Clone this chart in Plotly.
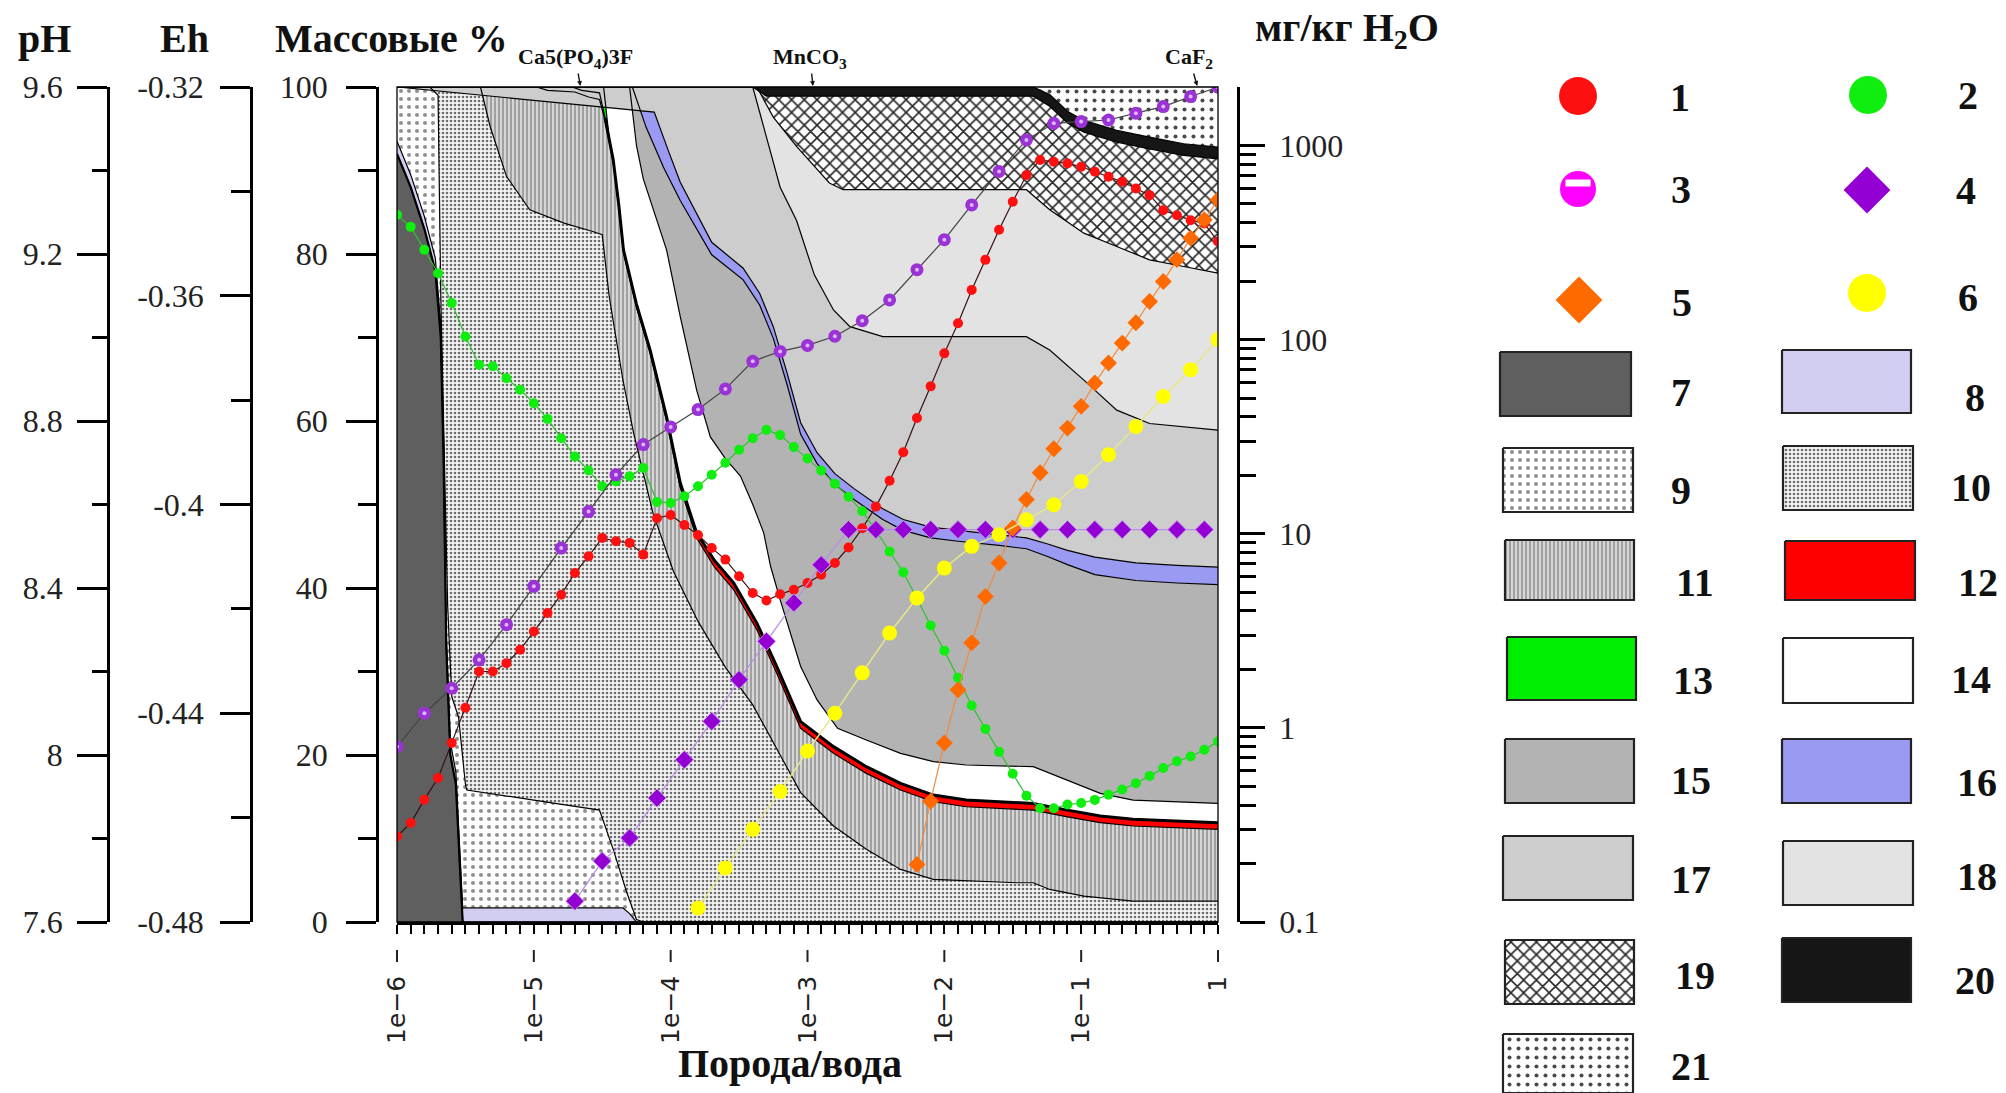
import plotly.graph_objects as go

W, H = 2006, 1093


def px(x):
    return x / W


def py(y):
    return 1 - y / H


# plot frame (pixels)
PL, PR, PT, PB = 397, 1218, 87, 922

# ---------------- x grids: exponent of rock/water ratio ----------------
lg_r01 = [k / 10 for k in range(-60, 1)]          # every 0.1 decade
lg_r02 = [k / 10 for k in range(-60, 1, 2)]       # every 0.2 decade
lg_s4 = [k / 10 for k in range(-47, 0, 2)]
lg_s5 = [k / 10 for k in range(-22, 1)]
lg_s6 = [k / 10 for k in range(-38, 1, 2)]

# ---------------- series ----------------
ph_1 = [7.805, 7.837, 7.893, 7.945, 8.029, 8.113, 8.2, 8.2, 8.22, 8.252,
        8.296, 8.34, 8.384, 8.436, 8.476, 8.52, 8.512, 8.508, 8.48, 8.567,
        8.575, 8.551, 8.527, 8.496, 8.468, 8.428, 8.388, 8.37, 8.385, 8.396,
        8.412, 8.432, 8.46, 8.497, 8.543, 8.595, 8.657, 8.725, 8.807, 8.883,
        8.962, 9.034, 9.114, 9.186, 9.258, 9.325, 9.389, 9.425, 9.421, 9.417,
        9.409, 9.397, 9.385, 9.373, 9.357, 9.341, 9.305, 9.293, 9.281, 9.273,
        9.23]
eh_2 = [-0.3445, -0.3468, -0.3512, -0.3557, -0.3614, -0.3678, -0.3732, -0.3735, -0.3758, -0.378,
        -0.3806, -0.3836, -0.3873, -0.3908, -0.3935, -0.3965, -0.3956, -0.3946, -0.393, -0.3995,
        -0.3997, -0.3984, -0.3965, -0.3943, -0.392, -0.3895, -0.3873, -0.3857, -0.3867, -0.389,
        -0.3912, -0.3935, -0.396, -0.3985, -0.4013, -0.405, -0.409, -0.413, -0.418, -0.4232,
        -0.428, -0.4332, -0.4385, -0.443, -0.4474, -0.4516, -0.4558, -0.4582, -0.4582, -0.4575,
        -0.4572, -0.4566, -0.4556, -0.4546, -0.4534, -0.452, -0.4505, -0.4492, -0.4483, -0.447,
        -0.4454]
conc_3 = [0.80, 1.19, 1.60, 2.24, 3.40, 5.36, 8.43, 13.0, 20.1, 28.8, 35.5, 43.6, 55.7, 77.3,
          86.9, 93.3, 104, 125, 160, 229, 327, 494, 735, 1067, 1300, 1327, 1352, 1466, 1585,
          1786, 1995]
conc_4 = [0.128, 0.206, 0.271, 0.435, 0.685, 1.08, 1.77, 2.79, 4.40, 6.92,
          10.5, 10.5, 10.5, 10.5, 10.5, 10.5, 10.5, 10.5, 10.5, 10.5, 10.5, 10.5, 10.5, 10.5]
conc_5 = [0.198, 0.419, 0.836, 1.57, 2.74, 4.75, 7.06, 10.7, 15.0, 20.6, 27.4, 35.0, 45.3,
          59.7, 75.7, 95.9, 122, 157, 199, 258, 333, 414, 525]
conc_6 = [0.118, 0.19, 0.30, 0.47, 0.76, 1.19, 1.92, 3.08, 4.67, 6.65, 8.61, 9.89, 11.8,
          14.1, 18.6, 25.5, 35.7, 50.9, 70, 100]

# ---------------- cumulative mass-% boundaries (top of each phase) ----------------
b7_lg = [-6, -5.9, -5.8, -5.72, -5.68, -5.66, -5.64, -5.61, -5.57, -5.53, -5.52, 0]
b7_pct = [92, 88, 83, 78, 70, 56, 33, 20, 16.5, 4, 0, 0]
b8_lg = [-6, -5.9, -5.8, -5.72, -5.68, -5.66, -5.64, -5.61, -5.57, -5.53, -5.52, -4.35, -4.3, -4.25, 0]
b8_pct = [93.5, 89.5, 84.5, 79.5, 71.5, 57.5, 34.5, 21.5, 18, 5.7, 1.7, 1.7, 1.0, 0, 0]
b9_lg = [-6, -5.76, -5.7, -5.68, -5.66, -5.63, -5.6, -5.55, -5.5, -5.49, -5.0, -4.52, -4.42, -4.32, -4.25, -4.2, 0]
b9_pct = [100, 100, 99, 75, 60, 38, 27, 24.5, 16.5, 15.8, 14.6, 13.4, 8.7, 3.5, 0.3, 0, 0]
b10_lg = [-6, -5.39, -5.32, -5.2, -5.03, -4.78, -4.57, -4.5, -4.45, -4.35, -4.27, -4.13, -3.98, -3.8,
          -3.6, -3.4, -3.2, -3.05, -2.81, -2.57, -2.32, -2.08, -1.47, -1.35, -1.23, -0.98, -0.62, 0]
b10_pct = [100, 100, 95.3, 89.3, 85.3, 83.7, 82.7, 82.3, 75, 65, 58.5, 49, 42, 36,
           30.5, 26, 20, 15.5, 11.5, 8.7, 6.3, 5.1, 4.7, 4.7, 3.9, 3.1, 2.5, 2.5]
b11_lg = [-6, -4.98, -4.9, -4.7, -4.6, -4.52, -4.48, -4.45, -4.42, -4.38, -4.345, -4.25, -4.15, -4.03,
          -3.93, -3.81, -3.68, -3.54, -3.37, -3.225, -3.05, -2.81, -2.57, -2.32, -2.08, -1.84, -1.35,
          -1.1, -0.86, -0.62, 0]
b11_pct = [100, 100, 99.6, 99.4, 98.8, 98.5, 96, 93.7, 91, 85.7, 80.2, 73.6, 68.1, 60,
           52, 46, 42.5, 39.8, 35, 29.8, 23.2, 20.2, 17.8, 15.8, 14.4, 13.8, 13.4,
           12.6, 11.9, 11.5, 11.1]
# left edge of the white band (top of red / green)
c_lg = [-4.48, -4.45, -4.42, -4.38, -4.345, -4.25, -4.15, -4.03, -3.93, -3.81, -3.68, -3.54, -3.37,
        -3.225, -3.05, -2.81, -2.57, -2.32, -2.08, -1.84, -1.35, -1.1, -0.86, -0.62, 0]
c_pct = [96.3, 94, 91.3, 86, 80.5, 74, 68.5, 60.5, 52.6, 46.6, 43.3, 40.6, 35.8,
         30.6, 24.0, 21.0, 18.6, 16.6, 15.2, 14.6, 14.2, 13.4, 12.7, 12.3, 11.9]
b12_lg = [-6, -4.72, -4.65, -4.52] + c_lg
b12_pct = [100, 100, 99.6, 99.3] + c_pct
b13_lg = [-6, -4.49] + c_lg[1:]
b13_pct = [100, 100] + c_pct[1:]
b14_lg = [-6, -4.3, -4.25, -4.2, -4.1, -4.03, -3.93, -3.81, -3.71, -3.6, -3.49, -3.4, -3.32, -3.27,
          -3.2, -3.05, -2.93, -2.78, -2.57, -2.32, -2.08, -1.84, -1.35, -1.1, -0.86, -0.62, 0]
b14_pct = [100, 100, 93, 89, 84, 80.5, 72.5, 63.7, 58.1, 55.5, 53.4, 50, 46.6, 42.6,
           38.6, 30.6, 26.6, 23.2, 21.8, 20.2, 19.2, 18.8, 18.6, 17.0, 15.4, 14.6, 14.2]
b15_lg = [-6, -4.28, -4.18, -4.05, -3.93, -3.7, -3.47, -3.35, -3.25, -3.15, -3.05, -2.93, -2.8, -2.66,
          -2.45, -2.3, -2.1, -1.9, -1.6, -1.4, -1.25, -1.1, -0.9, -0.6, -0.3, 0]
b15_pct = [100, 100, 95.2, 90.3, 86.4, 79.9, 76.9, 73.9, 69.9, 64.4, 58.4, 54.9, 52.4, 50.6,
           48.2, 46.9, 46.0, 45.6, 45.1, 44.7, 43.8, 42.8, 41.6, 40.9, 40.6, 40.4]
b16_lg = [-6, -4.12, -4.02, -3.93, -3.7, -3.47, -3.35, -3.25, -3.15, -3.05, -2.93, -2.8, -2.66,
          -2.45, -2.3, -2.1, -1.9, -1.6, -1.4, -1.25, -1.1, -0.9, -0.6, -0.3, 0]
b16_pct = [100, 97, 92.5, 88.6, 81.4, 78.3, 75.3, 71.3, 65.8, 59.8, 56.2, 53.7, 51.9,
           49.5, 48.2, 47.3, 46.9, 46.4, 46.0, 45.3, 44.5, 43.7, 43.0, 42.7, 42.5]
b17_lg = [-6, -3.4, -3.3, -3.2, -3.08, -2.95, -2.81, -2.69, -2.45, -1.4, -1.23, -0.98, -0.74, -0.5, 0]
b17_pct = [100, 100, 94, 88, 84, 77.5, 73.3, 71.3, 70.1, 70.1, 68.5, 64.9, 61.3, 59.7, 58.9]
b18_lg = [-6, -3.37, -3.25, -3.08, -2.84, -2.74, -1.69, -1.4, -1.23, -0.98, -0.74, -0.5, -0.25, 0]
b18_pct = [100, 100, 96.4, 92.9, 88.5, 87.7, 87.7, 87.7, 85.3, 82.5, 80.9, 79.3, 78.5, 77.7]
b19_lg = [-6, -3.4, -3.3, -1.35, -1.23, -1.1, -0.98, -0.74, -0.5, -0.25, 0]
b19_pct = [100, 100, 98.9, 98.9, 97.7, 95.7, 94.6, 93.4, 92.6, 91.8, 91.4]
b20_lg = [-6, -1.35, -1.23, -1.1, -0.98, -0.74, -0.5, -0.25, 0]
b20_pct = [100, 100, 99.1, 97.1, 96.0, 94.8, 94.0, 93.2, 92.8]

bounds = {
    6: ([-6, 0], [0, 0]),
    7: (b7_lg, b7_pct), 8: (b8_lg, b8_pct), 9: (b9_lg, b9_pct), 10: (b10_lg, b10_pct),
    11: (b11_lg, b11_pct), 12: (b12_lg, b12_pct), 13: (b13_lg, b13_pct), 14: (b14_lg, b14_pct),
    15: (b15_lg, b15_pct), 16: (b16_lg, b16_pct), 17: (b17_lg, b17_pct), 18: (b18_lg, b18_pct),
    19: (b19_lg, b19_pct), 20: (b20_lg, b20_pct),
    21: ([-6, 0], [100, 100]),
}


def pat(shape, fg, bg, size, sol):
    return dict(shape=shape, fgcolor=fg, bgcolor=bg, size=size, solidity=sol, fillmode="replace")


phase_style = {
    7: ("#5f5f5f", None),
    8: ("#d2cef2", None),
    9: ("#ffffff", pat(".", "#8f8f8f", "#ffffff", 8, 0.2)),
    10: ("#f0f0f0", pat(".", "#6e6e6e", "#f4f4f4", 4, 0.33)),
    11: ("#d2d2d2", pat("|", "#7c7c7c", "#d6d6d6", 4, 0.3)),
    12: ("#ff0000", None),
    13: ("#00ee00", None),
    14: ("#ffffff", None),
    15: ("#b3b3b3", None),
    16: ("#9a9af2", None),
    17: ("#cdcdcd", None),
    18: ("#e3e3e3", None),
    19: ("#ffffff", pat("x", "#262626", "#ffffff", 9, 0.32)),
    20: ("#161616", None),
    21: ("#ffffff", pat(".", "#4a4a4a", "#ffffff", 9, 0.16)),
}

fig = go.Figure()

# ---------------- stacked phase areas ----------------
for k in range(7, 22):
    lo_lg, lo_p = bounds[k - 1]
    up_lg, up_p = bounds[k]
    xs = [10 ** v for v in lo_lg] + [10 ** v for v in up_lg[::-1]]
    ys = list(lo_p) + list(up_p[::-1])
    col, fp = phase_style[k]
    kw = dict(fillpattern=fp) if fp else {}
    fig.add_trace(go.Scatter(x=xs, y=ys, mode="lines", line=dict(width=0), fill="toself",
                             fillcolor=col, hoverinfo="skip", showlegend=False,
                             xaxis="x", yaxis="y", **kw))

# boundary lines
for k in range(7, 21):
    lg, p = bounds[k]
    fig.add_trace(go.Scatter(x=[10 ** v for v in lg], y=p, mode="lines",
                             line=dict(color="black", width=1.2), hoverinfo="skip",
                             showlegend=False, xaxis="x", yaxis="y"))
fig.add_trace(go.Scatter(x=[10 ** v for v in c_lg], y=c_pct, mode="lines",
                         line=dict(color="black", width=3), hoverinfo="skip", showlegend=False))
fig.add_trace(go.Scatter(x=[10 ** v for v in b7_lg[:11]], y=b7_pct[:11], mode="lines",
                         line=dict(color="black", width=2.2), hoverinfo="skip", showlegend=False))

# ---------------- series ----------------
fig.add_trace(go.Scatter(x=[10 ** v for v in lg_r01], y=ph_1, yaxis="y2", mode="lines+markers",
                         line=dict(color="#3a1010", width=1.2),
                         marker=dict(symbol="circle", size=10, color="#ff1010"),
                         showlegend=False, hoverinfo="skip"))
fig.add_trace(go.Scatter(x=[10 ** v for v in lg_r01], y=eh_2, yaxis="y3", mode="lines+markers",
                         line=dict(color="#30c030", width=1.2),
                         marker=dict(symbol="circle", size=10, color="#10ee10"),
                         showlegend=False, hoverinfo="skip"))
fig.add_trace(go.Scatter(x=[10 ** v for v in lg_s4], y=conc_4, yaxis="y4", mode="lines+markers",
                         line=dict(color="#b98ae6", width=1.2),
                         marker=dict(symbol="diamond", size=14, color="#9400d3",
                                     line=dict(color="#c590f0", width=1)),
                         showlegend=False, hoverinfo="skip"))
fig.add_trace(go.Scatter(x=[10 ** v for v in lg_s5], y=conc_5, yaxis="y4", mode="lines+markers",
                         line=dict(color="#f08a40", width=1.2),
                         marker=dict(symbol="diamond", size=13, color="#ff6a00"),
                         showlegend=False, hoverinfo="skip"))
fig.add_trace(go.Scatter(x=[10 ** v for v in lg_s6], y=conc_6, yaxis="y4", mode="lines+markers",
                         line=dict(color="#e6e68a", width=1.5),
                         marker=dict(symbol="circle", size=15, color="#ffff00"),
                         showlegend=False, hoverinfo="skip"))
fig.add_trace(go.Scatter(x=[10 ** v for v in lg_r02], y=conc_3, yaxis="y4", mode="lines+markers",
                         line=dict(color="#444444", width=1.2),
                         marker=dict(symbol="circle", size=13, color="#9a32d6"),
                         showlegend=False, hoverinfo="skip"))
fig.add_trace(go.Scatter(x=[10 ** v for v in lg_r02], y=conc_3, yaxis="y4", mode="markers",
                         marker=dict(symbol="circle", size=4, color="#dcb8ff"),
                         showlegend=False, hoverinfo="skip"))

# ---------------- legend (drawn in a pixel-coordinate panel) ----------------
leg_markers = [
    ("1", 1578, 96, "circle", "#ff1010", 38, 1680, 97),
    ("2", 1868, 95, "circle", "#10ee10", 38, 1968, 95),
    ("3", 1578, 189, "circle", "#ff00ff", 36, 1681, 189),
    ("4", 1867, 190, "diamond", "#9400d3", 36, 1966, 190),
    ("5", 1579, 300, "diamond", "#ff6a00", 36, 1682, 302),
    ("6", 1867, 293, "circle", "#ffff00", 38, 1968, 297),
]
leg_boxes = [
    (7, 1500, 1631, 352, 416, 1681, 392),
    (8, 1782, 1911, 350, 413, 1975, 397),
    (9, 1503, 1633, 448, 512, 1681, 490),
    (10, 1783, 1913, 446, 510, 1971, 487),
    (11, 1505, 1634, 540, 600, 1695, 582),
    (12, 1785, 1915, 541, 600, 1978, 582),
    (13, 1507, 1636, 637, 700, 1693, 680),
    (14, 1783, 1913, 638, 703, 1971, 679),
    (15, 1505, 1634, 739, 803, 1691, 780),
    (16, 1782, 1911, 739, 803, 1977, 782),
    (17, 1503, 1633, 836, 900, 1691, 879),
    (18, 1783, 1913, 841, 905, 1977, 876),
    (19, 1505, 1634, 940, 1004, 1695, 975),
    (20, 1782, 1911, 938, 1002, 1975, 980),
    (21, 1503, 1633, 1034, 1093, 1691, 1066),
]

annotations = []
for lab, mx, my, sym, colr, sz, tx, ty in leg_markers:
    fig.add_trace(go.Scatter(x=[mx], y=[my], xaxis="x5", yaxis="y5", mode="markers",
                             marker=dict(symbol=sym, size=sz, color=colr),
                             showlegend=False, hoverinfo="skip"))
    annotations.append(dict(x=tx, y=ty, xref="x5", yref="y5", text="<b>%s</b>" % lab,
                            showarrow=False, font=dict(family="Liberation Serif", size=40, color="#111"),
                            xanchor="center", yanchor="middle"))
# white band inside legend marker 3
fig.add_trace(go.Scatter(x=[1578], y=[183], xaxis="x5", yaxis="y5", mode="markers",
                         marker=dict(symbol="line-ew", size=18, line=dict(color="white", width=7)),
                         showlegend=False, hoverinfo="skip"))

for k, x0, x1, y0, y1, tx, ty in leg_boxes:
    col, fp = phase_style[k]
    kw = dict(fillpattern=fp) if fp else {}
    fig.add_trace(go.Scatter(x=[x0, x1, x1, x0, x0], y=[y0, y0, y1, y1, y0], xaxis="x5", yaxis="y5",
                             mode="lines", fill="toself", fillcolor=col,
                             line=dict(color="#222", width=2.2), showlegend=False,
                             hoverinfo="skip", **kw))
    annotations.append(dict(x=tx, y=ty, xref="x5", yref="y5", text="<b>%d</b>" % k,
                            showarrow=False, font=dict(family="Liberation Serif", size=40, color="#111"),
                            xanchor="center", yanchor="middle"))

# ---------------- headers / titles ----------------
hdr_font = dict(family="Liberation Serif", size=40, color="#111")
for txt, x, y in [("pH", 44, 38), ("Eh", 184, 38), ("Массовые %", 391, 38),
                  ("мг/кг H<sub>2</sub>O", 1347, 30)]:
    annotations.append(dict(x=px(x), y=py(y), xref="paper", yref="paper", text="<b>%s</b>" % txt,
                            showarrow=False, font=hdr_font, xanchor="center", yanchor="middle"))
annotations.append(dict(x=px(790), y=py(1063), xref="paper", yref="paper", text="<b>Порода/вода</b>",
                        showarrow=False, font=hdr_font, xanchor="center", yanchor="middle"))

min_font = dict(family="Liberation Serif", size=22, color="#111")
for txt, lg, axx in [("Ca5(PO<sub>4</sub>)3F", -4.66, -5), ("MnCO<sub>3</sub>", -2.96, -3),
                     ("CaF<sub>2</sub>", -0.152, -8)]:
    annotations.append(dict(x=lg, y=py(PT - 1), xref="x", yref="paper", text="<b>%s</b>" % txt,
                            showarrow=True, arrowhead=2, arrowsize=0.7, arrowwidth=1.4,
                            arrowcolor="#111", ax=axx, ay=-28, font=min_font))

# ---------------- shapes ----------------
shapes = [dict(type="rect", xref="paper", yref="paper", x0=px(PL), x1=px(PR), y0=py(PB), y1=py(PT),
               line=dict(color="black", width=1.3), fillcolor="rgba(0,0,0,0)", layer="above")]
for k in range(7):
    xx = px(PL + k * (PR - PL) / 6)
    shapes.append(dict(type="line", xref="paper", yref="paper", x0=xx, x1=xx, y0=py(950), y1=py(962),
                       line=dict(color="#222", width=2)))

tick_font = dict(family="Liberation Serif", size=32, color="#222")
ydom = [py(PB), py(PT)]
common_y = dict(showline=True, linecolor="black", linewidth=2.5, ticks="outside", tickwidth=2.5,
                tickcolor="black", showgrid=False, zeroline=False, automargin=False,
                tickfont=tick_font, fixedrange=True)

log_minor = [m * 10 ** e for e in range(-1, 4) for m in range(2, 10) if m * 10 ** e < 2000]

fig.update_layout(
    width=W, height=H, autosize=False,
    margin=dict(l=0, r=0, t=0, b=0),
    paper_bgcolor="white", plot_bgcolor="rgba(0,0,0,0)",
    showlegend=False,
    xaxis=dict(type="log", range=[-6, 0], domain=[px(PL), px(PR)], anchor="y",
               showline=True, linecolor="black", linewidth=2.5, ticks="outside", ticklen=9,
               tickwidth=2, tickcolor="black",
               tickvals=[1e-6, 1e-5, 1e-4, 1e-3, 1e-2, 1e-1, 1],
               ticktext=["1e−6", "1e−5", "1e−4", "1e−3", "1e−2", "1e−1", "1"],
               tickangle=-90, tickfont=dict(family="DejaVu Sans", size=25, color="#222"),
               ticklabelstandoff=32,
               minor=dict(tickmode="array", tickvals=[10 ** (k / 10) for k in range(-60, 1)],
                          ticks="outside", ticklen=9, tickwidth=2, tickcolor="black", showgrid=False),
               showgrid=False, zeroline=False, automargin=False, fixedrange=True),
    yaxis=dict(domain=ydom, range=[0, 100], anchor="free", position=px(377), side="left",
               ticklen=30, tickvals=[0, 20, 40, 60, 80, 100], ticklabelstandoff=12,
               minor=dict(tickmode="array", tickvals=[10, 30, 50, 70, 90], ticks="outside",
                          ticklen=18, tickwidth=2.5, tickcolor="black"),
               **common_y),
    yaxis2=dict(overlaying="y", range=[7.6, 9.6], anchor="free", position=px(108), side="left",
                ticklen=30, tickvals=[7.6, 8.0, 8.4, 8.8, 9.2, 9.6],
                ticktext=["7.6", "8", "8.4", "8.8", "9.2", "9.6"], ticklabelstandoff=8,
                minor=dict(tickmode="array", tickvals=[7.8, 8.2, 8.6, 9.0, 9.4], ticks="outside",
                           ticklen=15, tickwidth=2.5, tickcolor="black"),
                **common_y),
    yaxis3=dict(overlaying="y", range=[-0.48, -0.32], anchor="free", position=px(251), side="left",
                ticklen=30, tickvals=[-0.48, -0.44, -0.40, -0.36, -0.32],
                ticktext=["-0.48", "-0.44", "-0.4", "-0.36", "-0.32"], ticklabelstandoff=10,
                minor=dict(tickmode="array", tickvals=[-0.46, -0.42, -0.38, -0.34], ticks="outside",
                           ticklen=19, tickwidth=2.5, tickcolor="black"),
                **common_y),
    yaxis4=dict(overlaying="y", type="log", range=[-1, 3.301], anchor="free", position=px(1238),
                side="right", ticklen=25, tickvals=[0.1, 1, 10, 100, 1000],
                ticktext=["0.1", "1", "10", "100", "1000"], ticklabelstandoff=8,
                minor=dict(tickmode="array", tickvals=log_minor, ticks="outside",
                           ticklen=16, tickwidth=2.5, tickcolor="black"),
                **common_y),
    xaxis5=dict(domain=[px(1460), 1], range=[1460, 2006], visible=False, anchor="y5", fixedrange=True),
    yaxis5=dict(domain=[0, 1], range=[1093, 0], visible=False, anchor="x5", fixedrange=True),
    annotations=annotations,
    shapes=shapes,
)

fig.write_html("out.html")
